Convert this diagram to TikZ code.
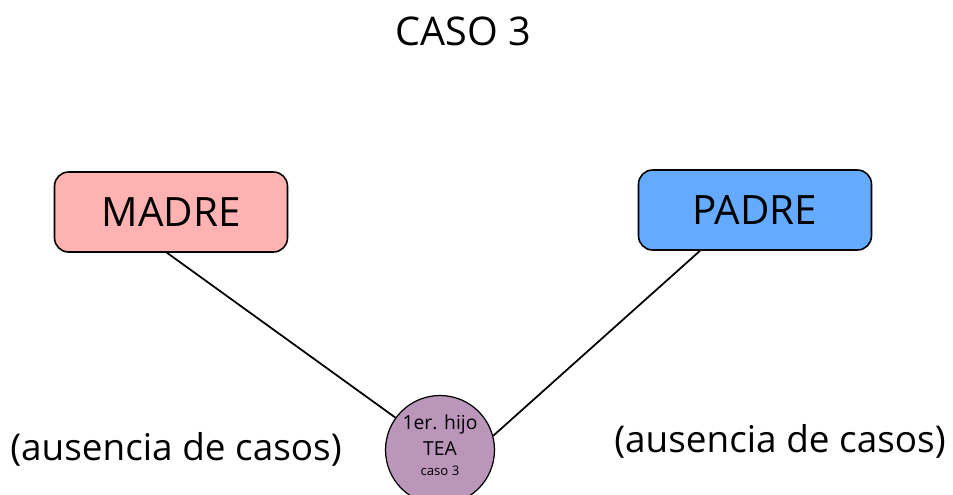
\documentclass[tikz,border=0pt]{standalone}
\usepackage{fontspec}
\setmainfont{Open Sans}
\usepackage{tikz}

\definecolor{madrecol}{RGB}{255,178,178}
\definecolor{padrecol}{RGB}{100,170,255}
\definecolor{hijocol}{RGB}{186,150,186}

\begin{document}
\begin{tikzpicture}[x=0.02cm, y=0.02cm]
    \tikzset{parent/.style={draw=black, line width=0.9pt, rounded corners=8pt,
        minimum width=4.66cm, minimum height=1.6cm, font=\fontsize{23}{28}\selectfont},
      link/.style={black, line width=1pt}}
    \useasboundingbox (0,0) rectangle (953,-494);
    \node (titulo) at (463,-31) {\fontsize{22.5}{28}\selectfont CASO 3};
    \node [parent, fill=madrecol] (madre) at (171,-212) {MADRE\hspace{0.4cm}};
    \node [parent, fill=padrecol] (padre) at (755,-210) {PADRE};
    \node [circle, draw=black, line width=0.7pt, fill=hijocol, minimum size=2.18cm,
        inner sep=0pt] (hijo) at (440,-450) {};
    \node [align=center, inner sep=0pt] (hijotexto) at (440,-445)
        {\fontsize{11}{14}\selectfont 1er. hijo\\[3pt]
         \fontsize{11}{14}\selectfont TEA\\[-1pt]
         \fontsize{7.5}{10}\selectfont caso 3};
    \draw [link] (madre.south -| 167,0) -- (hijo.144);
    \draw [link] (padre.south -| 700,0) -- (hijo.15);
    \node (izq) at (176,-449) {\fontsize{21}{24}\selectfont (ausencia de casos)};
    \node (der) at (780,-441) {\fontsize{21}{24}\selectfont (ausencia de casos)};
\end{tikzpicture}
\end{document}
